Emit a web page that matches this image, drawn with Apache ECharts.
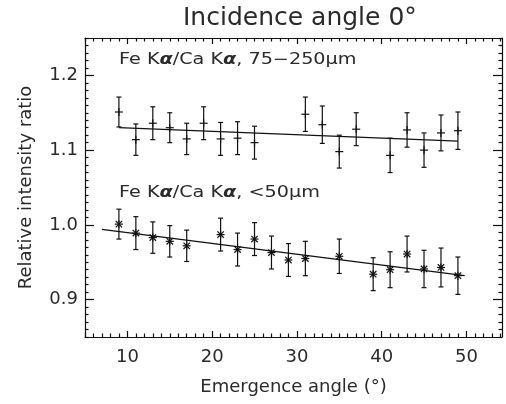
<!DOCTYPE html>
<html>
<head>
<meta charset="utf-8">
<script src="https://cdn.jsdelivr.net/npm/echarts@6/dist/echarts.min.js"></script>
<style>
  html, body { margin: 0; padding: 0; background: #fff; }
  #chart { width: 506px; height: 404px; }
</style>
</head>
<body>
<div id="chart"></div>
<script>
// 75-250 um fraction (plus symbols)
const angle_upper = [9, 11, 13, 15, 17, 19, 21, 23, 25, 31, 33, 35, 37, 41, 43, 45, 47, 49];
const ratio_upper = [1.151, 1.114, 1.136, 1.130, 1.115, 1.136, 1.115, 1.116, 1.110, 1.148, 1.134, 1.098, 1.128, 1.093, 1.127, 1.100, 1.123, 1.126];
const err_upper = [0.020, 0.021, 0.022, 0.020, 0.021, 0.022, 0.022, 0.022, 0.022, 0.023, 0.025, 0.022, 0.022, 0.023, 0.023, 0.023, 0.024, 0.025];
// <50 um fraction (asterisks)
const angle_lower = [9, 11, 13, 15, 17, 21, 23, 25, 27, 29, 31, 35, 39, 41, 43, 45, 47, 49];
const ratio_lower = [1.001, 0.989, 0.983, 0.978, 0.972, 0.987, 0.967, 0.981, 0.963, 0.953, 0.955, 0.958, 0.934, 0.940, 0.961, 0.941, 0.943, 0.932];
const err_lower = [0.020, 0.022, 0.021, 0.021, 0.021, 0.022, 0.022, 0.022, 0.022, 0.022, 0.023, 0.023, 0.022, 0.024, 0.024, 0.025, 0.026, 0.025];
// linear fits
const fit_upper_x = [9, 49];
const fit_upper_y = [1.130, 1.112];
const fit_lower_x = [7, 49.8];
const fit_lower_y = [0.994, 0.932];
// ticks
const x_labels = [10, 20, 30, 40, 50];
const y_labels = [0.9, 1.0, 1.1, 1.2];

const X_MIN = 5, X_MAX = 54.2, Y_MIN = 0.85, Y_MAX = 1.25;
let x_minor = [];
for (let v = 5; v <= 54; v++) if (v % 10) x_minor.push(v);
let y_minor = [];
for (let i = 85; i <= 125; i++) if (i % 10) y_minor.push(i / 100);

const ink = '#111';
const text_ink = '#2a2a2a';
const font = 'DejaVu Sans';

function make_x(position, major, show_label) {
    return {
        type: 'value', gridIndex: 0, position: position, min: X_MIN, max: X_MAX,
        axisLine: { show: major, onZero: false, lineStyle: { color: ink, width: 1.2 } },
        axisTick: { show: true, inside: true, length: major ? 6 : 3.5, customValues: major ? x_labels : x_minor, lineStyle: { color: ink, width: 1.2 } },
        axisLabel: { show: show_label, customValues: x_labels, fontFamily: font, fontSize: 18, color: text_ink, margin: 11 },
        splitLine: { show: false },
        name: show_label ? 'Emergence angle (°)' : '',
        nameLocation: 'middle', nameGap: 41,
        nameTextStyle: { fontFamily: font, fontSize: 18, color: text_ink },
    };
}
function make_y(position, major, show_label) {
    return {
        type: 'value', gridIndex: 0, position: position, min: Y_MIN, max: Y_MAX,
        axisLine: { show: major, onZero: false, lineStyle: { color: ink, width: 1.2 } },
        axisTick: { show: true, inside: true, length: major ? 9 : 3.5, customValues: major ? y_labels : y_minor, lineStyle: { color: ink, width: 1.2 } },
        axisLabel: { show: show_label, customValues: y_labels, formatter: v => v.toFixed(1), fontFamily: font, fontSize: 18, color: text_ink, margin: 7 },
        splitLine: { show: false },
        name: show_label ? 'Relative intensity ratio' : '',
        nameLocation: 'middle', nameGap: 50,
        nameTextStyle: { fontFamily: font, fontSize: 18, color: text_ink },
    };
}

function err_item(kind) {
    return function (params, api) {
        const x = api.value(0), y = api.value(1), e = api.value(2);
        const c = api.coord([x, y]);
        const top = api.coord([x, y + e]);
        const bot = api.coord([x, y - e]);
        const st = { stroke: ink, lineWidth: 1.2 };
        const seg = (x1, y1, x2, y2) => ({ type: 'line', shape: { x1, y1, x2, y2 }, style: st });
        let kids = [
            seg(c[0], top[1], c[0], bot[1]),
            seg(c[0] - 2.5, top[1], c[0] + 2.5, top[1]),
            seg(c[0] - 2.5, bot[1], c[0] + 2.5, bot[1]),
            seg(c[0] - 4, c[1], c[0] + 4, c[1]),
            seg(c[0], c[1] - 4, c[0], c[1] + 4),
        ];
        if (kind == 'star') {
            kids.push(seg(c[0] - 3.2, c[1] - 3.2, c[0] + 3.2, c[1] + 3.2));
            kids.push(seg(c[0] - 3.2, c[1] + 3.2, c[0] + 3.2, c[1] - 3.2));
        }
        return { type: 'group', children: kids };
    };
}

function note(text, y) {
    return {
        type: 'text', x: 119, y: y, scaleX: 1.28,
        style: {
            text: text, fill: text_ink, font: '15px "DejaVu Sans"', verticalAlign: 'middle',
            rich: { a: { fontFamily: font, fontSize: 15, fontStyle: 'italic', fontWeight: 'bold', fill: text_ink } },
        },
    };
}

let chart = echarts.init(document.getElementById('chart'), null, { renderer: 'canvas' });
chart.setOption({
    animation: false,
    backgroundColor: '#fff',
    title: {
        text: 'Incidence angle 0°', left: 178, top: 1,
        textStyle: { fontFamily: font, fontSize: 25, fontWeight: 'normal', color: text_ink },
    },
    grid: { left: 85, top: 38, right: 4, bottom: 67, containLabel: false },
    xAxis: [make_x('bottom', true, true), make_x('bottom', false, false), make_x('top', true, false), make_x('top', false, false)],
    yAxis: [make_y('left', true, true), make_y('left', false, false), make_y('right', true, false), make_y('right', false, false)],
    graphic: [
        note('Fe K{a|α}/Ca K{a|α}, 75−250µm', 60),
        note('Fe K{a|α}/Ca K{a|α}, <50µm', 193),
    ],
    series: [
        {
            type: 'line', name: 'fit upper', xAxisIndex: 0, yAxisIndex: 0, symbol: 'none',
            lineStyle: { color: ink, width: 1.3 },
            data: fit_upper_x.map((x, i) => [x, fit_upper_y[i]]),
        },
        {
            type: 'line', name: 'fit lower', xAxisIndex: 0, yAxisIndex: 0, symbol: 'none',
            lineStyle: { color: ink, width: 1.3 },
            data: fit_lower_x.map((x, i) => [x, fit_lower_y[i]]),
        },
        {
            type: 'custom', name: '75-250um', xAxisIndex: 0, yAxisIndex: 0,
            renderItem: err_item('plus'), encode: { x: 0, y: 1 },
            data: angle_upper.map((x, i) => [x, ratio_upper[i], err_upper[i]]),
        },
        {
            type: 'custom', name: '<50um', xAxisIndex: 0, yAxisIndex: 0,
            renderItem: err_item('star'), encode: { x: 0, y: 1 },
            data: angle_lower.map((x, i) => [x, ratio_lower[i], err_lower[i]]),
        },
    ],
});
</script>
</body>
</html>
